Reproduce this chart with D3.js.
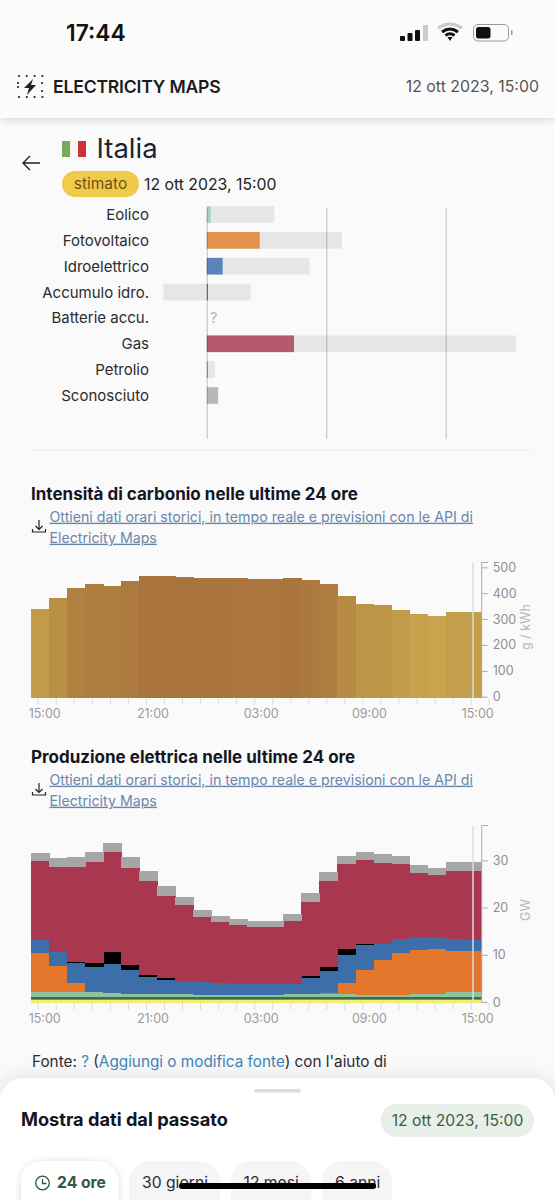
<!DOCTYPE html>
<html>
<head>
<meta charset="utf-8">
<script src="https://cdn.jsdelivr.net/npm/d3@7"></script>
<style>
	body { margin: 0; background: #fafafa; }
	svg { display: block; font-family: Inter, "Noto Sans", sans-serif; }
	.domain { display: none; }
</style>
</head>
<body>
<svg id="page" width="555" height="1200"></svg>
<script>
// mode breakdown, GW
var modes = ["Eolico", "Fotovoltaico", "Idroelettrico", "Accumulo idro.", "Batterie accu.", "Gas", "Petrolio", "Sconosciuto"];
var modeValue = [0.65, 8.87, 2.65, 0.2, null, 14.6, 0.2, 1.9];
var modeCapMin = [0, 0, 0, -7.25, 0, 0, 0, 0];
var modeCapMax = [11.3, 22.6, 17.2, 7.35, 0, 51.8, 1.35, 0];
var modeColor = ["#9ed5bf", "#e2934a", "#5a85b9", "#5a85b9", "#bbb", "#b55a6c", "#a8a8a8", "#b8b8b8"];
var modeTicks = [0, 20, 40];

// last 24 hours, 25 bars
var hourLabels = ["15:00", "21:00", "03:00", "09:00", "15:00"];
var carbon = [344, 384, 424, 439, 432, 450, 469, 469, 466, 464, 463, 461, 460, 459, 464, 454, 439, 393, 363, 360, 340, 322, 316, 331, 331];
var carbonTicks = [0, 100, 200, 300, 400, 500];

var geotermico = [0.65, 0.65, 0.65, 0.65, 0.65, 0.65, 0.65, 0.65, 0.65, 0.65, 0.65, 0.65, 0.65, 0.65, 0.65, 0.65, 0.65, 0.65, 0.65, 0.65, 0.65, 0.65, 0.65, 0.65, 0.65];
var biomassa = [0.2, 0.2, 0.2, 0.2, 0.2, 0.2, 0.2, 0.2, 0.2, 0.2, 0.2, 0.2, 0.2, 0.2, 0.2, 0.2, 0.2, 0.2, 0.2, 0.2, 0.2, 0.2, 0.2, 0.2, 0.2];
var carbone = [0.5, 0.5, 0.5, 0.5, 0.5, 0.5, 0.5, 0.5, 0.5, 0.5, 0.5, 0.5, 0.5, 0.5, 0.5, 0.5, 0.5, 0.5, 0.5, 0.5, 0.5, 0.5, 0.5, 0.5, 0.5];
var eolico = [0.9, 1.05, 1.05, 0.9, 0.7, 0.55, 0.55, 0.55, 0.5, 0.4, 0.4, 0.35, 0.35, 0.35, 0.55, 0.55, 0.55, 0.5, 0.35, 0.35, 0.4, 0.55, 0.65, 0.9, 0.9];
var solare = [8.4, 5.45, 1.9, 0, 0, 0, 0, 0, 0, 0, 0, 0, 0, 0, 0, 0, 0.2, 2.35, 5.35, 7.5, 8.85, 9.3, 9.4, 8.75, 8.75];
var idro = [2.8, 2.95, 4.1, 5.45, 6.2, 5.0, 3.55, 2.95, 2.8, 2.6, 2.4, 2.35, 2.35, 2.4, 2.2, 3.45, 4.75, 6.0, 5.25, 3.4, 2.9, 2.7, 2.6, 2.55, 2.45];
var accumulo = [0, 0, 0.3, 0.85, 2.55, 1.2, 0.4, 0.4, 0, 0, 0, 0, 0, 0, 0, 0.4, 0.8, 1.15, 0.3, 0, 0, 0, 0, 0, 0];
var gas = [16.65, 17.95, 20.2, 21.35, 21.1, 20.6, 20.0, 17.45, 16.05, 13.9, 13.0, 12.45, 12.15, 12.1, 13.35, 15.75, 18.3, 18.0, 17.6, 17.15, 15.9, 13.55, 13.05, 14.4, 14.5];
var sconosciuto = [1.75, 1.9, 2.1, 2.05, 2.1, 2.2, 2.1, 2.0, 1.75, 1.55, 1.25, 1.35, 1.15, 1.25, 1.4, 1.85, 1.9, 1.9, 1.85, 1.9, 1.75, 1.7, 1.6, 1.85, 1.85];
var prodTicks = [0, 10, 20, 30];

var prodSeries = [geotermico, biomassa, carbone, eolico, solare, idro, accumulo, gas, sconosciuto];
var prodColor = ["#f2f06e", "#6aa23c", "#3f6b4a", "#8fc3a0", "#e3762a", "#3c6ea9", "#000000", "#a93750", "#a6a6a6"];

var linkText1 = "Ottieni dati orari storici, in tempo reale e previsioni con le API di";
var dateText = "12 ott 2023, 15:00";

var svg = d3.select("#page");

function txt(x, y, s, size, color, weight, anchor){
	return svg.append("text").attr("x", x).attr("y", y).text(s)
		.style("font-size", size + "px")
		.style("fill", color)
		.style("font-weight", weight || 400)
		.attr("text-anchor", anchor || "start");
}

var defs = svg.append("defs");
var f1 = defs.append("filter").attr("id", "sh").attr("x", "-20%").attr("y", "-20%").attr("width", "140%").attr("height", "160%");
f1.append("feDropShadow").attr("dx", 0).attr("dy", 1).attr("stdDeviation", 4).attr("flood-color", "#000").attr("flood-opacity", 0.16);
var f2 = defs.append("filter").attr("id", "sh2").attr("x", "-20%").attr("y", "-40%").attr("width", "140%").attr("height", "180%");
f2.append("feDropShadow").attr("dx", 0).attr("dy", -2).attr("stdDeviation", 10).attr("flood-color", "#000").attr("flood-opacity", 0.09);

// header
svg.append("rect").attr("width", 555).attr("height", 1200).attr("fill", "#fafafa");
svg.append("rect").attr("width", 555).attr("height", 118).attr("fill", "#fbfbfb").attr("filter", "url(#sh)");

txt(66, 41, "17:44", 22.8, "#111", 600);
[[400, 36, 5], [407.5, 33, 8], [415, 30, 11]].forEach(function(b){
	svg.append("rect").attr("x", b[0]).attr("y", b[1]).attr("width", 5).attr("height", b[2]).attr("rx", 1).attr("fill", "#111");
});
svg.append("rect").attr("x", 423).attr("y", 25).attr("width", 5).attr("height", 16).attr("rx", 1).attr("fill", "#ccc");
[[438, 28, 462, 28, 450, 20, "#ccc"], [442, 32, 458, 32, 450, 26, "#111"]].forEach(function(w){
	svg.append("path").attr("d", "M" + w[0] + "," + w[1] + " Q" + w[4] + "," + w[5] + " " + w[2] + "," + w[3])
		.attr("fill", "none").attr("stroke", w[6]).attr("stroke-width", 3);
});
svg.append("path").attr("d", "M445.5,35.5 Q450,32 454.5,35.5").attr("fill", "none").attr("stroke", "#111").attr("stroke-width", 3);
svg.append("path").attr("d", "M447.5,37 L450,41 L452.5,37 Z").attr("fill", "#111");
svg.append("rect").attr("x", 473.5).attr("y", 24.5).attr("width", 35).attr("height", 16.5).attr("rx", 4.5).attr("fill", "none").attr("stroke", "#999");
svg.append("rect").attr("x", 476).attr("y", 27).attr("width", 14.5).attr("height", 11.5).attr("rx", 2.5).attr("fill", "#111");
svg.append("rect").attr("x", 511).attr("y", 30).attr("width", 1.5).attr("height", 5).attr("fill", "#999");

// logo
d3.range(4).forEach(function(i){
	[76, 97].forEach(function(y){
		svg.append("circle").attr("cx", 19 + i * 7.8).attr("cy", y).attr("r", 1.1).attr("fill", "#222");
	});
});
[[18, 87], [42, 83], [42, 91], [18, 83]].forEach(function(p){
	svg.append("circle").attr("cx", p[0]).attr("cy", p[1]).attr("r", 1.1).attr("fill", "#222");
});
svg.append("path").attr("d", "M33,79 L24,88 L29,88 L27,95 L36,85 L31,85 Z").attr("fill", "#222");
txt(53, 93, "ELECTRICITY MAPS", 17.6, "#1d1d1d", 600).style("letter-spacing", "-0.2px");
txt(539, 92, dateText, 15.9, "#555", 400, "end");

// title
[["#7aa95c", 62], ["#f6f6f6", 70], ["#d32f3a", 78]].forEach(function(c){
	svg.append("rect").attr("x", c[1]).attr("y", 141).attr("width", 8).attr("height", 16).attr("fill", c[0]);
});
txt(96.5, 157.5, "Italia", 27.5, "#1c2333", 400);
svg.append("path").attr("d", "M40,163 L23,163 M30,156 L23,163 L30,170").attr("fill", "none").attr("stroke", "#222").attr("stroke-width", 1.4);
svg.append("rect").attr("x", 62).attr("y", 171).attr("width", 77).attr("height", 26).attr("rx", 13).attr("fill", "#f2ca4a");
txt(100.5, 189, "stimato", 15.5, "#6f5312", 400, "middle");
txt(144, 189.5, dateText, 15.8, "#222", 400);

// breakdown bars
var xMode = d3.scaleLinear().domain([0, 40]).range([206.8, 445.7]);
var yMode = d3.scaleBand().domain(modes).range([201.5, 408.5]).paddingInner(0.355).paddingOuter(0.18);

svg.append("g").selectAll("text").data(modes).join("text")
	.attr("x", 149).attr("y", function(d){ return yMode(d) + yMode.bandwidth() / 2 + 5.5; })
	.attr("text-anchor", "end")
	.style("font-size", "15px").style("fill", "#2b2b33")
	.text(function(d){ return d; });

var rowIdx = d3.range(modes.length);
svg.append("g").selectAll("rect").data(rowIdx.filter(function(i){ return modeCapMax[i] > 0; })).join("rect")
	.attr("x", function(i){ return xMode(modeCapMin[i]); })
	.attr("y", function(i){ return yMode(modes[i]); })
	.attr("width", function(i){ return xMode(modeCapMax[i]) - xMode(modeCapMin[i]); })
	.attr("height", yMode.bandwidth())
	.attr("fill", "#e6e6e6");
svg.append("g").selectAll("rect").data(rowIdx.filter(function(i){ return modeValue[i] !== null; })).join("rect")
	.attr("x", xMode(0))
	.attr("y", function(i){ return yMode(modes[i]); })
	.attr("width", function(i){ return xMode(modeValue[i]) - xMode(0); })
	.attr("height", yMode.bandwidth())
	.attr("fill", function(i){ return modeColor[i]; });
rowIdx.filter(function(i){ return modeValue[i] === null; }).forEach(function(i){
	txt(xMode(0) + 7, yMode(modes[i]) + yMode.bandwidth() / 2 + 5, "?", 14.5, "#b5b5b5", 400, "middle");
});

var modeAxis = svg.append("g").attr("transform", "translate(0,207.7)")
	.call(d3.axisTop(xMode).tickValues(modeTicks).tickSize(-231.3).tickFormat(""));
modeAxis.selectAll("line").attr("stroke", "#000").attr("stroke-opacity", 0.17).attr("stroke-width", 1.4);

svg.append("line").attr("x1", 32).attr("x2", 533).attr("y1", 450).attr("y2", 450).attr("stroke", "#eee");

// section heading with link
function heading(y, s){
	txt(31, y, s, 17, "#14161f", 700);
	[y + 21.7, y + 42.7].forEach(function(ly, i){
		txt(49.5, ly, i == 0 ? linkText1 : "Electricity Maps", 14.2, "#6a86ad", 400).style("text-decoration", "underline");
	});
	svg.append("path").attr("d", "M39,"+(y+20)+" V"+(y+29)+" M35.5,"+(y+26)+" L39,"+(y+29.5)+" L42.5,"+(y+26)+" M32.5,"+(y+29)+" V"+(y+32)+" H45.5 V"+(y+29))
		.attr("fill", "none").attr("stroke", "#222").attr("stroke-width", 1.2);
}
heading(500, "Intensità di carbonio nelle ultime 24 ore");
heading(763, "Produzione elettrica nelle ultime 24 ore");

// shared x scales: bars and hour ticks sit about 6.7px apart
var xBar = d3.scaleLinear().domain([0, carbon.length]).range([31, 481.7]);
var xTick = d3.scaleLinear().domain([0, carbon.length]).range([37.7, 488.7]);

function hourAxis(yBase){
	var g = svg.append("g").attr("transform", "translate(0," + yBase + ")")
		.call(d3.axisBottom(xTick).tickValues(d3.range(carbon.length + 1)).tickSize(7).tickSizeOuter(0).tickFormat(function(i){
			return i % 6 == 0 ? hourLabels[i / 6] : "";
		}));
	g.selectAll("line").attr("stroke", "#ddd");
	g.selectAll("text").attr("dx", 6.5).attr("y", 11).style("font-size", "12.5px").style("fill", "#9a9a9a").style("font-family", "Inter");
}

function valueAxis(y, ticks, yTop, yBot, unit, unitY, unitX){
	var g = svg.append("g").attr("transform", "translate(481.7,-1)")
		.call(d3.axisRight(y).tickValues(ticks).tickSize(6));
	g.selectAll("line").attr("stroke", "#aaa");
	g.selectAll("text").attr("x", 11).style("font-size", "12.5px").style("fill", "#8f8f8f").style("font-family", "Inter");
	svg.append("path").attr("d", "M488," + yTop + " H481.7 V" + yBot).attr("fill", "none").attr("stroke", "#aaa");
	svg.append("text").attr("transform", "translate(" + unitX + "," + unitY + ") rotate(-90)")
		.attr("text-anchor", "middle").style("font-size", "12.5px").style("fill", "#bdbdbd").style("font-weight", 500).text(unit);
}

// carbon intensity
var yCarbon = d3.scaleLinear().domain([0, 500]).range([697.7, 568.3]);
var carbonColor = d3.scaleLinear().domain([316, 469]).range(["#c7a44d", "#a8733c"]);
svg.append("g").attr("shape-rendering", "crispEdges").selectAll("rect").data(carbon).join("rect")
	.attr("x", function(d, i){ return xBar(i); })
	.attr("y", function(d){ return yCarbon(d); })
	.attr("width", xBar(1) - xBar(0) + 0.6)
	.attr("height", function(d){ return yCarbon(0) - yCarbon(d); })
	.attr("fill", function(d){ return carbonColor(d); });
hourAxis(698);
valueAxis(yCarbon, carbonTicks, 562.5, 697.7, "g / kWh", 627, 530);
svg.append("line").attr("x1", 473).attr("x2", 473).attr("y1", 563).attr("y2", 698).attr("stroke", "#dcdcdc").attr("stroke-width", 1.5);

// production stack
var yProd = d3.scaleLinear().domain([0, 30]).range([1003, 861.4]);
var rows = carbon.map(function(c, i){
	var r = { i: i };
	prodSeries.forEach(function(s, k){ r["s" + k] = s[i]; });
	return r;
});
var stack = d3.stack().keys(prodSeries.map(function(s, k){ return "s" + k; }))(rows);
svg.append("g").attr("shape-rendering", "crispEdges").selectAll("g").data(stack).join("g")
	.attr("fill", function(d, k){ return prodColor[k]; })
	.selectAll("rect").data(function(d){ return d; }).join("rect")
	.attr("x", function(d){ return xBar(d.data.i); })
	.attr("y", function(d){ return yProd(d[1]); })
	.attr("width", xBar(1) - xBar(0) + 0.6)
	.attr("height", function(d){ return yProd(d[0]) - yProd(d[1]); });
hourAxis(1003);
valueAxis(yProd, prodTicks, 825.5, 1002, "GW", 910, 530);
svg.append("line").attr("x1", 473).attr("x2", 473).attr("y1", 826).attr("y2", 1003).attr("stroke", "#dcdcdc").attr("stroke-width", 1.5);

// source line
var src = txt(32, 1067, "Fonte: ", 15.3, "#2b2b33", 400);
src.append("tspan").text("?").style("fill", "#3f85b8");
src.append("tspan").text(" (");
src.append("tspan").text("Aggiungi o modifica fonte").style("fill", "#3f85b8");
src.append("tspan").text(") con l'aiuto di");

// bottom sheet
svg.append("rect").attr("x", 0).attr("y", 1078).attr("width", 555).attr("height", 160).attr("rx", 24).attr("fill", "#fff").attr("filter", "url(#sh2)");
svg.append("rect").attr("x", 254).attr("y", 1089).attr("width", 47).attr("height", 3.5).attr("rx", 1.75).attr("fill", "#ddd");
txt(21, 1126, "Mostra dati dal passato", 18.2, "#14161f", 700);
svg.append("rect").attr("x", 380.5).attr("y", 1104).attr("width", 153.5).attr("height", 33).attr("rx", 16.5).attr("fill", "#e8efe9");
txt(457.5, 1126, dateText, 15.7, "#3e5a48", 400, "middle");

var pills = [[21, 97.5, "24 ore", 57], [129, 91, "30 giorni", 142], [231, 80.5, "12 mesi", 243.5], [322, 70, "6 anni", 335]];
pills.forEach(function(p, i){
	var r = svg.append("rect").attr("x", p[0]).attr("y", 1161).attr("width", p[1]).attr("height", 60).attr("rx", 21)
		.attr("fill", i == 0 ? "#fff" : "#f5f5f5");
	if(i == 0) r.attr("filter", "url(#sh)").style("opacity", 0.9);
	txt(p[3], 1188, p[2], 15.7, i == 0 ? "#2e5b3c" : "#2b2b33", i == 0 ? 700 : 400);
});
svg.append("circle").attr("cx", 42.5).attr("cy", 1183).attr("r", 6.8).attr("fill", "none").attr("stroke", "#2e5b3c").attr("stroke-width", 1.3);
svg.append("path").attr("d", "M42.5,1179 V1183.5 H46.5").attr("fill", "none").attr("stroke", "#2e5b3c").attr("stroke-width", 1.3);
svg.append("rect").attr("x", 179).attr("y", 1183).attr("width", 197).attr("height", 6).attr("rx", 3).attr("fill", "#000");
</script>
</body>
</html>
